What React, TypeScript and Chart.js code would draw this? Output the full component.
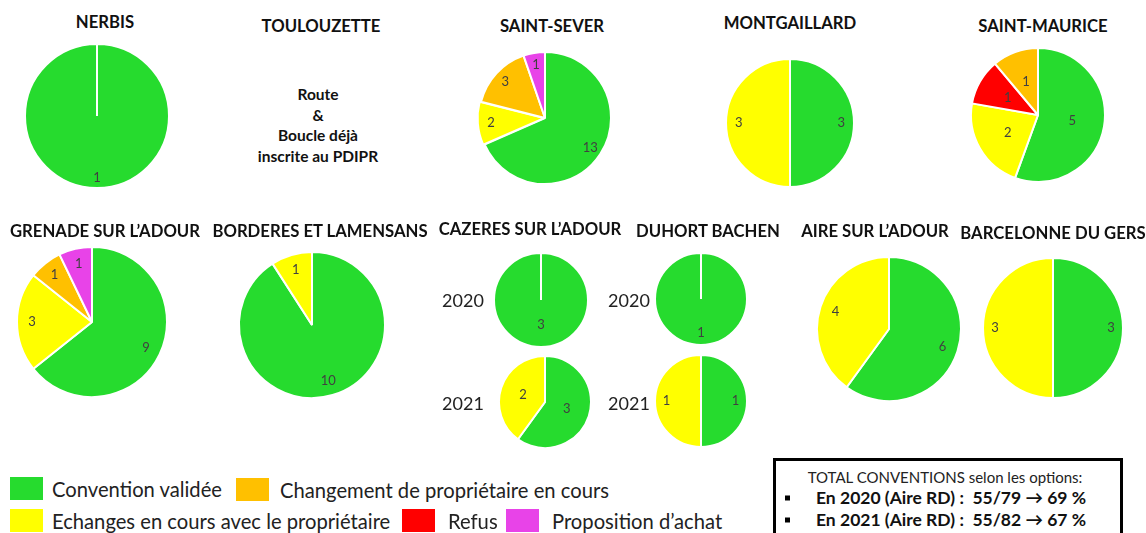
import React, { useEffect, useRef } from "react";
import { Chart, registerables } from "chart.js";
Chart.register(...registerables);

// ---------- DATA ----------
const CATEGORIES = [
  "Convention validée",
  "Echanges en cours avec le propriétaire",
  "Refus",
  "Changement de propriétaire en cours",
  "Proposition d’achat",
];
const COLORS = ["#26DB2E", "#FFFF00", "#FF0000", "#FFC000", "#E843E8"];

const NERBIS = [1, 0, 0, 0, 0];
const SAINT_SEVER = [13, 2, 0, 3, 1];
const MONTGAILLARD = [3, 3, 0, 0, 0];
const SAINT_MAURICE = [5, 2, 1, 1, 0];
const GRENADE = [9, 3, 0, 1, 1];
const BORDERES = [10, 1, 0, 0, 0];
const CAZERES_2020 = [3, 0, 0, 0, 0];
const CAZERES_2021 = [3, 2, 0, 0, 0];
const DUHORT_2020 = [1, 0, 0, 0, 0];
const DUHORT_2021 = [1, 1, 0, 0, 0];
const AIRE = [6, 4, 0, 0, 0];
const BARCELONNE = [3, 3, 0, 0, 0];

const TITLES = [
  "NERBIS",
  "TOULOUZETTE",
  "SAINT-SEVER",
  "MONTGAILLARD",
  "SAINT-MAURICE",
  "GRENADE SUR L’ADOUR",
  "BORDERES ET LAMENSANS",
  "CAZERES SUR L’ADOUR",
  "DUHORT BACHEN",
  "AIRE SUR L’ADOUR",
  "BARCELONNE DU GERS",
];
const TOULOUZETTE_NOTE = ["Route", "&", "Boucle déjà", "inscrite au PDIPR"];
const YEARS = ["2020", "2021"];
const TOTAL_HEADER = "TOTAL CONVENTIONS selon les options:";
const TOTAL_LINES = [
  "En 2020 (Aire RD) :  55/79 → 69 %",
  "En 2021 (Aire RD) :  55/82 → 67 %",
];

// ---------- LAYOUT (positions / styles) ----------
type PieSpec = { values: number[]; cx: number; cy: number; r: number; lf: number; offsets?: number[] };
const PIES: PieSpec[] = [
  { values: NERBIS, cx: 97, cy: 116, r: 72, lf: 0.86 },
  { values: SAINT_SEVER, cx: 545, cy: 118, r: 66, lf: 0.82, offsets: [0, 4, 0, 0, 0] },
  { values: MONTGAILLARD, cx: 790, cy: 123, r: 64, lf: 0.8 },
  { values: SAINT_MAURICE, cx: 1038, cy: 115, r: 67, lf: 0.52 },
  { values: GRENADE, cx: 92, cy: 322, r: 75, lf: 0.8 },
  { values: BORDERES, cx: 312, cy: 325, r: 73, lf: 0.79 },
  { values: CAZERES_2020, cx: 541, cy: 300, r: 47, lf: 0.53 },
  { values: CAZERES_2021, cx: 545, cy: 402, r: 46, lf: 0.5 },
  { values: DUHORT_2020, cx: 701, cy: 299, r: 46, lf: 0.74 },
  { values: DUHORT_2021, cx: 701, cy: 401, r: 46, lf: 0.75 },
  { values: AIRE, cx: 889, cy: 329, r: 72, lf: 0.78 },
  { values: BARCELONNE, cx: 1053, cy: 328, r: 70, lf: 0.83 },
];
const TITLE_POS = [
  [105, 22], [321, 26], [552, 26], [790, 23], [1043, 26],
  [105, 231], [320, 231], [530, 229], [708, 231], [875, 231], [1053, 233],
];

const FONT = "Lato, 'Open Sans', sans-serif";

const valueLabels = {
  id: "valueLabels",
  afterDatasetsDraw(chart: any) {
    const ctx = chart.ctx;
    const frac = chart.options.plugins.valueLabels.frac;
    const meta = chart.getDatasetMeta(0);
    const data = chart.data.datasets[0].data;
    ctx.save();
    ctx.fillStyle = "#404040";
    ctx.font = "13px " + FONT;
    ctx.textAlign = "center";
    ctx.textBaseline = "middle";
    meta.data.forEach((arc: any, i: number) => {
      const p = arc.getProps(["x", "y", "startAngle", "endAngle", "outerRadius"], true);
      const mid = (p.startAngle + p.endAngle) / 2;
      const rr = p.outerRadius * frac;
      ctx.fillText(String(data[i]), p.x + Math.cos(mid) * rr, p.y + Math.sin(mid) * rr);
    });
    ctx.restore();
  },
};

function Pie({ spec }: { spec: PieSpec }) {
  const ref = useRef<HTMLCanvasElement>(null);
  const S = spec.r * 2 + 20;
  useEffect(() => {
    const idx = spec.values.map((v, i) => i).filter((i) => spec.values[i] > 0);
    const chart = new Chart(ref.current!, {
      type: "pie",
      data: {
        labels: idx.map((i) => CATEGORIES[i]),
        datasets: [
          {
            data: idx.map((i) => spec.values[i]),
            backgroundColor: idx.map((i) => COLORS[i]),
            borderColor: "#FFFFFF",
            borderWidth: 2,
            offset: idx.map((i) => (spec.offsets ? spec.offsets[i] : 0)),
          },
        ],
      },
      options: {
        responsive: false,
        maintainAspectRatio: false,
        animation: false,
        radius: spec.r,
        layout: { padding: 0 },
        events: [],
        plugins: {
          legend: { display: false },
          tooltip: { enabled: false },
          title: { display: false },
          valueLabels: { frac: spec.lf },
        } as any,
      },
      plugins: [valueLabels],
    });
    return () => chart.destroy();
  }, []);
  return (
    <canvas
      ref={ref}
      width={S}
      height={S}
      style={{ position: "absolute", left: spec.cx - S / 2, top: spec.cy - S / 2, width: S, height: S }}
    />
  );
}

const centered = (x: number, y: number): React.CSSProperties => ({
  position: "absolute",
  left: x,
  top: y,
  transform: "translate(-50%, -50%)",
  whiteSpace: "nowrap",
  lineHeight: 1,
});

function Swatch({ x, y, c }: { x: number; y: number; c: string }) {
  return <div style={{ position: "absolute", left: x, top: y, width: 33, height: 23, background: c }} />;
}
function LegendText({ x, y, t }: { x: number; y: number; t: string }) {
  return (
    <div style={{ position: "absolute", left: x, top: y, transform: "translateY(-50%)", fontSize: 20.2, color: "#222", whiteSpace: "nowrap", lineHeight: 1 }}>
      {t}
    </div>
  );
}

export default function App() {
  useEffect(() => {
    document.body.style.margin = "0";
  }, []);
  return (
    <div style={{ position: "fixed", left: 0, top: 0, width: 1146, height: 533, background: "#fff", overflow: "hidden", fontFamily: FONT, color: "#111" }}>
      {PIES.map((p, i) => (
        <Pie key={i} spec={p} />
      ))}
      {TITLES.map((t, i) => (
        <div key={t} style={{ ...centered(TITLE_POS[i][0], TITLE_POS[i][1]), fontWeight: 700, fontSize: 16.7 }}>
          {t}
        </div>
      ))}
      {TOULOUZETTE_NOTE.map((t, i) => (
        <div key={t} style={{ ...centered(318, 95 + i * 20.5), fontWeight: 700, fontSize: 15.5 }}>
          {t}
        </div>
      ))}
      <div style={{ ...centered(463, 300), fontSize: 18, color: "#222" }}>{YEARS[0]}</div>
      <div style={{ ...centered(463, 403), fontSize: 18, color: "#222" }}>{YEARS[1]}</div>
      <div style={{ ...centered(629, 300), fontSize: 18, color: "#222" }}>{YEARS[0]}</div>
      <div style={{ ...centered(629, 403), fontSize: 18, color: "#222" }}>{YEARS[1]}</div>

      {/* legend */}
      <Swatch x={10} y={477} c={COLORS[0]} />
      <LegendText x={52} y={489} t={CATEGORIES[0]} />
      <Swatch x={236} y={478} c={COLORS[3]} />
      <LegendText x={280} y={490} t={CATEGORIES[3]} />
      <Swatch x={10} y={509} c={COLORS[1]} />
      <LegendText x={52} y={521} t={CATEGORIES[1]} />
      <Swatch x={402} y={509} c={COLORS[2]} />
      <LegendText x={448} y={521} t={CATEGORIES[2]} />
      <Swatch x={506} y={509} c={COLORS[4]} />
      <LegendText x={552} y={521} t={CATEGORIES[4]} />

      {/* total box */}
      <div style={{ position: "absolute", left: 773, top: 458, width: 344, height: 90, border: "3px solid #000", background: "#fff" }} />
      <div style={{ ...centered(945, 477), fontSize: 15, color: "#222" }}>{TOTAL_HEADER}</div>
      {TOTAL_LINES.map((t, i) => (
        <React.Fragment key={t}>
          <div style={{ position: "absolute", left: 785, top: 498 + i * 22, width: 5, height: 5, background: "#000", transform: "translateY(-50%)" }} />
          <div style={{ position: "absolute", left: 816, top: 498 + i * 22, transform: "translateY(-50%)", fontSize: 17.5, fontWeight: 700, whiteSpace: "pre", lineHeight: 1, color: "#111" }}>
            {t}
          </div>
        </React.Fragment>
      ))}
    </div>
  );
}
